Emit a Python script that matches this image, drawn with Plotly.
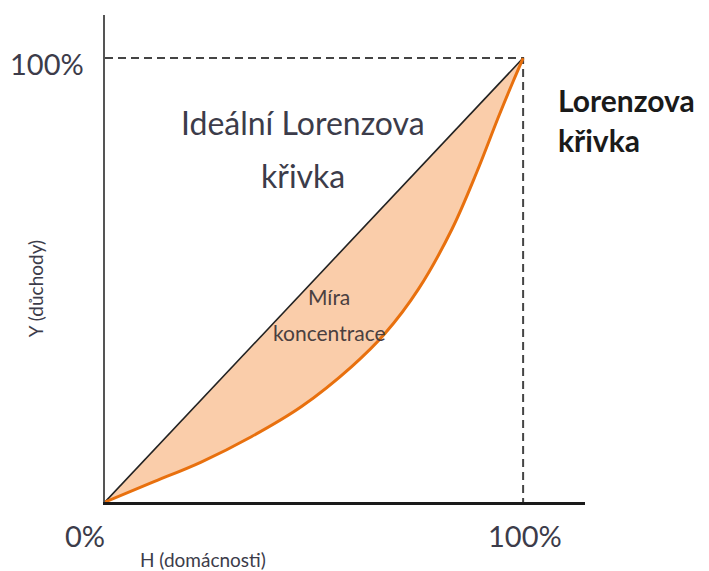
import plotly.graph_objects as go

# ---- data ----
equality_x = [0, 1]
equality_y = [0, 1]
lorenz_x = [0, 0.11, 0.23, 0.35, 0.47, 0.59, 0.67, 0.75, 0.83, 0.89, 0.94, 0.975, 1.0]
lorenz_y = [0, 0.043, 0.090, 0.147, 0.215, 0.305, 0.38, 0.48, 0.615, 0.745, 0.865, 0.945, 1.0]
guide_x = [0, 1, 1]
guide_y = [1, 1, 0]
x_tick_vals = [0, 1]
x_tick_text = ["0%", "100%"]
y_tick_vals = [1]
y_tick_text = ["100%"]

X_MAX = 1.148
Y_MAX = 1.097
FONT = "Lato"
TXT = "#3c3c4a"

fig = go.Figure()

fig.add_trace(go.Scatter(x=guide_x, y=guide_y, mode="lines",
                         line=dict(color="#444444", width=2, dash="8px,5px"),
                         showlegend=False))
fig.add_trace(go.Scatter(x=equality_x, y=equality_y, mode="lines",
                         line=dict(color="#222222", width=1.6), showlegend=False))
fig.add_trace(go.Scatter(x=lorenz_x, y=lorenz_y, mode="lines", fill="tonexty",
                         fillcolor="#FACDAA",
                         line=dict(color="#E8700E", width=3, shape="spline", smoothing=1.0),
                         showlegend=False))


def px(v):
    return v / X_MAX


def py(v):
    return v / Y_MAX


def note(x, y, text, size, color=TXT, ref="paper", **kw):
    d = dict(x=x, y=y, text=text, showarrow=False,
             xref=ref, yref=("paper" if ref == "paper" else "y"),
             xanchor="center", yanchor="middle",
             font=dict(family=FONT, size=size, color=color))
    d.update(kw)
    return d


ann = []
for v, t in zip(x_tick_vals, x_tick_text):
    ann.append(note(px(v) + (-0.042 if v == 0 else 0.004), -0.068, t, 29))
for v, t in zip(y_tick_vals, y_tick_text):
    ann.append(note(-0.121, py(v) - 0.012, t, 29))
ann.append(note(0.205, -0.119, "H (domácnosti)", 19))
ann.append(note(-0.146, 0.439, "Y (důchody)", 19, textangle=-90))
ann.append(note(0.474, 0.854, "Ideální Lorenzova", 32, ref="x"))
ann.append(note(0.474, 0.736, "křivka", 32, ref="x"))
ann.append(note(1.079, 0.905, "<b>Lorenzova</b>", 30, color="#1a1a1a", ref="x", xanchor="left"))
ann.append(note(1.079, 0.815, "<b>křivka</b>", 30, color="#1a1a1a", ref="x", xanchor="left"))
ann.append(note(0.536, 0.462, "Míra", 21, color="#4a4040", ref="x"))
ann.append(note(0.538, 0.381, "koncentrace", 21, color="#4a4040", ref="x"))

fig.update_layout(
    width=701, height=563,
    margin=dict(l=97, r=124, t=7, b=69),
    paper_bgcolor="white", plot_bgcolor="white",
    annotations=ann,
    xaxis=dict(range=[0, X_MAX], showline=True, linecolor="#1a1a1a", linewidth=3,
               showgrid=False, zeroline=False, showticklabels=False, ticks=""),
    yaxis=dict(range=[0, Y_MAX], showline=True, linecolor="#555555", linewidth=2,
               showgrid=False, zeroline=False, showticklabels=False, ticks=""),
)

fig.write_html("out.html")
